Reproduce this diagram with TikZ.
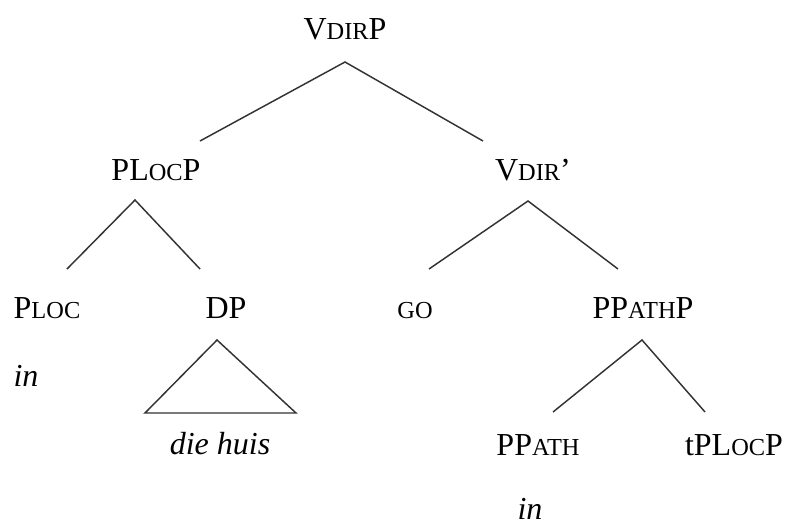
\documentclass[tikz,border=0pt]{standalone}
\usepackage{fontspec}
\setmainfont{Liberation Serif}
\usepackage{tikz}
\newcommand{\smc}[1]{{\fontsize{18.3}{20}\selectfont #1}}
\tikzset{
  cat/.style={anchor=base, inner sep=0pt, font=\fontsize{24}{28}\selectfont},
  word/.style={anchor=base, inner sep=0pt, font=\fontsize{24}{28}\selectfont\itshape},
  branch/.style={line width=1.1pt, draw=black!80, line join=miter}
}

\begin{document}
\begin{tikzpicture}[x=0.75pt,y=-0.75pt]
    \useasboundingbox (0,0) rectangle (787,525);
    % labels
    \node[cat] (vdirp)  at (345,39)  {V\smc{DIR}P};
    \node[cat] (plocp)  at (156,180) {PL\smc{OC}P};
    \node[cat] (vdirb)  at (533,180) {V\smc{DIR}'};
    \node[cat] (ploc)   at (47,318)  {P\smc{LOC}};
    \node[cat] (dp)     at (226,318) {DP};
    \node[cat] (go)     at (415,318) {\smc{GO}};
    \node[cat] (ppathp) at (643,318) {PP\smc{ATH}P};
    \node[cat] (ppath)  at (538,455) {PP\smc{ATH}};
    \node[cat] (tplocp) at (734,455) {tPL\smc{OC}P};
    \node[word] (in1)   at (26,386)  {in};
    \node[word] (huis)  at (220,454) {die huis};
    \node[word] (in2)   at (530,519) {in};
    % branch points
    \coordinate (vdirp-t) at (345,62);
    \coordinate (vdirp-l) at (200,141);
    \coordinate (vdirp-r) at (483,141);
    \coordinate (plocp-t) at (135,200);
    \coordinate (plocp-l) at (67,269);
    \coordinate (plocp-r) at (200,269);
    \coordinate (vdirb-t) at (528,201);
    \coordinate (vdirb-l) at (429,269);
    \coordinate (vdirb-r) at (618,269);
    \coordinate (dp-t)    at (217,340);
    \coordinate (dp-l)    at (145,413);
    \coordinate (dp-r)    at (296,413);
    \coordinate (ppathp-t) at (642,340);
    \coordinate (ppathp-l) at (553,412);
    \coordinate (ppathp-r) at (705,412);
    % branches
    \draw[branch] (vdirp-l) -- (vdirp-t) -- (vdirp-r);
    \draw[branch] (plocp-l) -- (plocp-t) -- (plocp-r);
    \draw[branch] (vdirb-l) -- (vdirb-t) -- (vdirb-r);
    \draw[branch] (dp-t) -- (dp-l) -- (dp-r) -- cycle;
    \draw[branch] (ppathp-l) -- (ppathp-t) -- (ppathp-r);
\end{tikzpicture}
\end{document}
